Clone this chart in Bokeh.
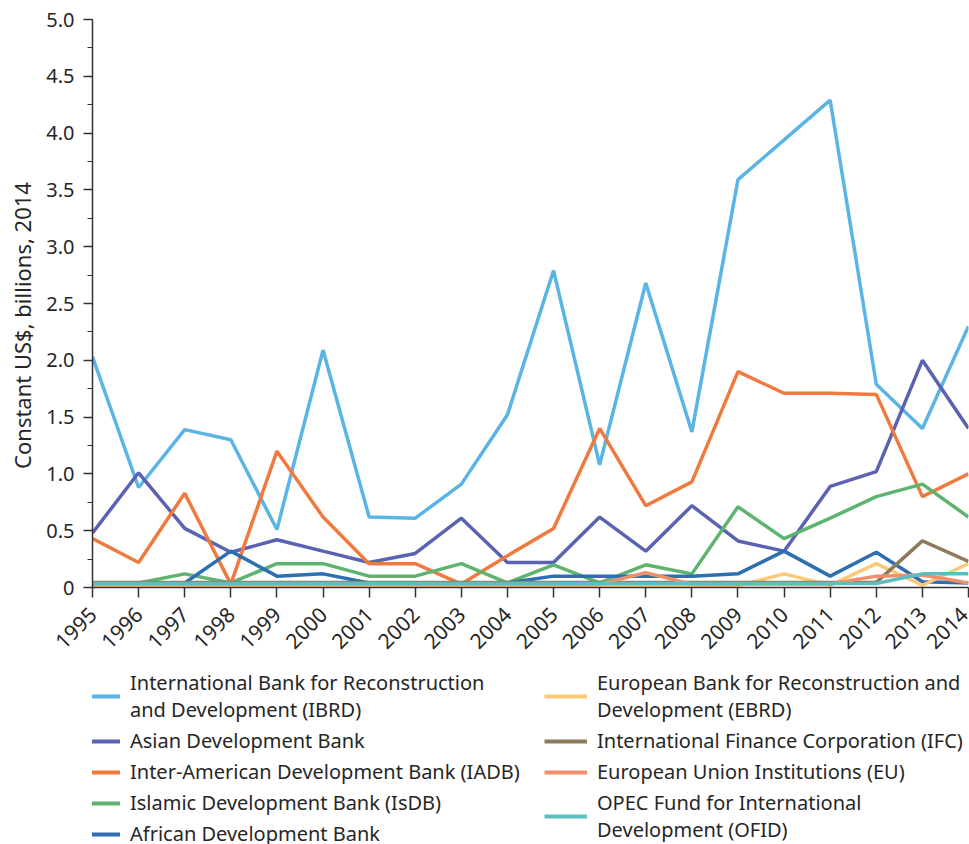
from bokeh.plotting import figure
from bokeh.models import Legend, LegendItem, Range1d, FixedTicker, NumeralTickFormatter
from bokeh.layouts import column
from bokeh.embed import file_html
from bokeh.resources import INLINE
import math

years = list(range(1995, 2015))

ibrd  = [2.03, 0.88, 1.39, 1.30, 0.51, 2.09, 0.62, 0.61, 0.91, 1.52, 2.79, 1.08, 2.68, 1.37, 3.59, 3.94, 4.29, 1.79, 1.40, 2.30]
asian = [0.48, 1.01, 0.52, 0.31, 0.42, 0.32, 0.22, 0.30, 0.61, 0.22, 0.22, 0.62, 0.32, 0.72, 0.41, 0.32, 0.89, 1.02, 2.00, 1.40]
iadb  = [0.43, 0.22, 0.83, 0.03, 1.20, 0.62, 0.21, 0.21, 0.03, 0.28, 0.52, 1.40, 0.72, 0.93, 1.90, 1.71, 1.71, 1.70, 0.80, 1.00]
isdb  = [0.04, 0.04, 0.12, 0.04, 0.21, 0.21, 0.10, 0.10, 0.21, 0.04, 0.20, 0.04, 0.20, 0.12, 0.71, 0.43, 0.61, 0.80, 0.91, 0.62]
afdb  = [0.04, 0.04, 0.04, 0.32, 0.10, 0.12, 0.04, 0.04, 0.04, 0.04, 0.10, 0.10, 0.10, 0.10, 0.12, 0.32, 0.10, 0.31, 0.05, 0.04]
ebrd  = [0.015, 0.015, 0.015, 0.015, 0.015, 0.015, 0.015, 0.015, 0.015, 0.015, 0.015, 0.015, 0.015, 0.015, 0.015, 0.12, 0.02, 0.21, 0.02, 0.21]
ifc   = [0.045, 0.045, 0.045, 0.045, 0.045, 0.045, 0.045, 0.045, 0.045, 0.045, 0.045, 0.045, 0.045, 0.045, 0.045, 0.045, 0.045, 0.045, 0.41, 0.23]
eu    = [0.03, 0.03, 0.03, 0.03, 0.03, 0.03, 0.03, 0.03, 0.03, 0.03, 0.03, 0.03, 0.13, 0.03, 0.03, 0.03, 0.03, 0.10, 0.11, 0.04]
ofid  = [0.035, 0.035, 0.035, 0.035, 0.035, 0.035, 0.035, 0.035, 0.035, 0.035, 0.035, 0.035, 0.035, 0.035, 0.035, 0.035, 0.035, 0.035, 0.12, 0.12]

names = [
    "International Bank for Reconstruction\nand Development (IBRD)",
    "Asian Development Bank",
    "Inter-American Development Bank (IADB)",
    "Islamic Development Bank (IsDB)",
    "African Development Bank",
    "European Bank for Reconstruction and\nDevelopment (EBRD)",
    "International Finance Corporation (IFC)",
    "European Union Institutions (EU)",
    "OPEC Fund for International\nDevelopment (OFID)",
]
series = [ibrd, asian, iadb, isdb, afdb, ebrd, ifc, eu, ofid]
colors = ["#5ab4e4", "#5a62b2", "#f07a3e", "#5cb46e", "#2c6fb2",
          "#fdc977", "#8d7b5e", "#f0906a", "#5bbfc2"]

y_ticks = [0, 0.5, 1.0, 1.5, 2.0, 2.5, 3.0, 3.5, 4.0, 4.5, 5.0]

FONT = "Noto Sans"
TXT = "#262626"

# ---------------- main chart ----------------
p = figure(width=969, height=668, output_backend="svg", toolbar_location=None,
           x_range=Range1d(1995, 2014), y_range=Range1d(0, 5.0),
           min_border_left=92, min_border_top=19, min_border_right=1,
           min_border_bottom=81)
p.outline_line_color = None
p.xgrid.visible = False
p.ygrid.visible = False

for ys, c in zip(series, colors):
    p.line(years, ys, line_color=c, line_width=3.5)

for ax in (p.xaxis[0], p.yaxis[0]):
    ax.axis_line_color = "#333333"
    ax.axis_line_width = 1.5
    ax.major_tick_line_color = "#333333"
    ax.minor_tick_line_color = "#333333"
    ax.major_tick_line_width = 1.5
    ax.major_tick_in = 0
    ax.minor_tick_in = 0
    ax.major_label_text_font = FONT
    ax.major_label_text_font_size = "20px"
    ax.major_label_text_color = TXT

p.yaxis.ticker = FixedTicker(ticks=y_ticks, minor_ticks=[i * 0.25 for i in range(21)])
p.yaxis.formatter = NumeralTickFormatter(format="0.0")
p.yaxis.major_label_overrides = {0: "0"}
p.yaxis.major_tick_out = 9
p.yaxis.minor_tick_out = 5
p.yaxis.major_label_standoff = 9
p.yaxis.axis_label = "Constant US$, billions, 2014\u2002\u2002\u2002\u2002"
p.yaxis.axis_label_text_font = FONT
p.yaxis.axis_label_text_font_size = "22px"
p.yaxis.axis_label_text_font_style = "normal"
p.yaxis.axis_label_text_color = TXT
p.yaxis.axis_label_standoff = 6

p.xaxis.ticker = FixedTicker(ticks=years)
p.xaxis.major_tick_out = 10
p.xaxis.minor_tick_out = 0
p.xaxis.major_label_standoff = 13
p.xaxis.major_label_text_font_size = "21px"
p.xaxis.major_label_orientation = math.pi / 4

# ---------------- legend panel ----------------
lg = figure(width=969, height=176, output_backend="svg", toolbar_location=None,
            x_axis_type=None, y_axis_type=None,
            x_range=Range1d(0, 1), y_range=Range1d(0, 1),
            min_border_left=92, min_border_right=1, min_border_top=0,
            min_border_bottom=0)
lg.outline_line_color = None
lg.xgrid.visible = False
lg.ygrid.visible = False

items = []
for n, ys, c in zip(names, series, colors):
    # proxy renderer for the legend swatch (its data lie outside this panel's ranges)
    r = lg.line(years, ys, line_color=c, line_width=4)
    items.append(LegendItem(label=n, renderers=[r]))

def make_legend(its, loc):
    return Legend(items=its, location=loc,
                  label_text_font=FONT, label_text_font_size="20px",
                  label_text_color=TXT, label_text_line_height=1.1,
                  glyph_width=43, glyph_height=20, label_standoff=10,
                  spacing=4, padding=0, margin=0,
                  border_line_color=None, background_fill_alpha=0)

lg.add_layout(make_legend(items[:5], (-15, -3)), "center")
lg.add_layout(make_legend(items[5:], (452, 1)), "center")

layout = column(p, lg, spacing=0)
open("out.html", "w").write(file_html(layout, INLINE))
